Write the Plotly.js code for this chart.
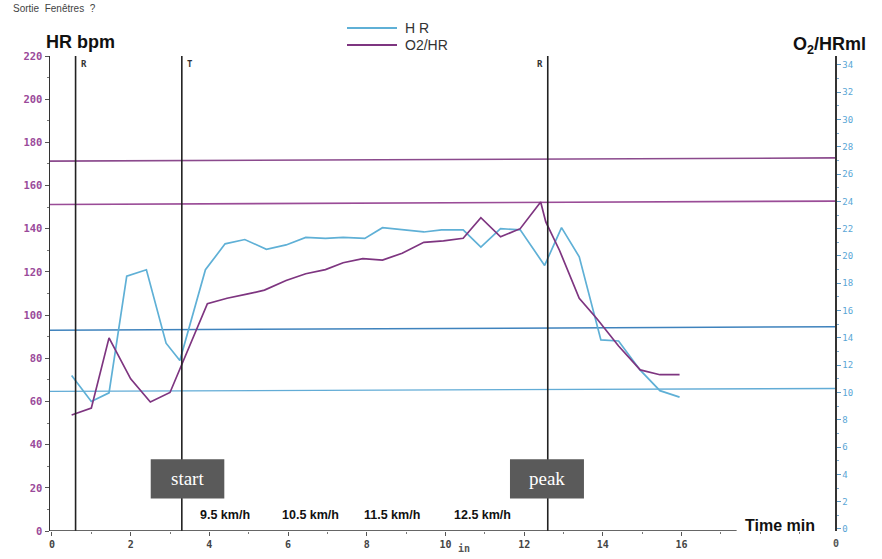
<!DOCTYPE html>
<html>
<head>
<meta charset="utf-8">
<script src="https://cdn.plot.ly/plotly-3.0.1.min.js"></script>
<style>html,body{margin:0;padding:0;background:#fff;}#chart{width:882px;height:559px;}</style>
</head>
<body>
<div id="chart"></div>
<script>
// ---- data ----
const hrTime = [0.5,1.0,1.45,1.9,2.4,2.9,3.25,3.9,4.4,4.9,5.45,5.95,6.45,6.95,7.4,7.95,8.4,8.95,9.45,9.9,10.45,10.9,11.4,11.9,12.52,12.95,13.4,13.95,14.4,14.95,15.45,15.95];
const hrBpm  = [72,60,64,118,121,87,79,121,133,135,130.5,132.5,136,135.5,136,135.5,140.5,139.5,138.5,139.5,139.5,131.5,140,139.5,123,140.5,127,88.5,88,74.5,65,62];

const o2Time = [0.5,1.0,1.45,2.0,2.5,3.0,3.95,4.45,4.95,5.4,5.95,6.45,6.95,7.4,7.9,8.4,8.9,9.45,9.95,10.45,10.9,11.4,11.9,12.42,12.55,12.9,13.4,13.85,14.4,14.95,15.45,15.95];
const o2Ml   = [8.35,8.85,14.0,11.0,9.3,10.0,16.5,16.9,17.2,17.5,18.2,18.7,19.0,19.5,19.8,19.7,20.2,21.0,21.1,21.3,22.8,21.4,22.0,23.95,22.5,20.4,16.9,15.4,13.4,11.65,11.3,11.3];

const seriesNames = ["H R", "O2/HR"];

// vertical event markers (time, min) and their labels
const markerTimes  = [0.6, 3.3, 12.6];
const markerLabels = ["R", "T", "R"];

// horizontal threshold lines, HR units at left end and right end
const refLeft  = [171.3, 151.2, 93.0, 64.7];
const refRight = [172.8, 152.8, 94.6, 66.0];

// treadmill speed labels and their time positions
const speedLabels = ["9.5 km/h", "10.5 km/h", "11.5 km/h", "12.5 km/h"];
const speedTimes  = [4.4, 6.58, 8.64, 10.95];

const xTicks = [0,2,4,6,8,10,12,14,16];

// ---- styling ----
const BLUE = "#5fb0d6";
const PURPLE = "#7e3580";
const AXIS = "#333";
const refColors = ["#8b4a8d", "#9a4c97", "#3f83bd", "#62acd6"];
const refWidths = [1.6, 1.6, 1.5, 1.3];
const SANS = "Liberation Sans, Arial, sans-serif";
const MONO = "DejaVu Sans Mono, monospace";

const L = 50, T = 56, W = 785, H = 475;
function px(xp) { return (xp - L) / W; }
function py(yp) { return 1 - (yp - T) / H; }

const traces = [
  {x: hrTime, y: hrBpm, name: seriesNames[0], type: "scatter", mode: "lines",
   line: {color: BLUE, width: 1.7}, yaxis: "y", showlegend: false},
  {x: o2Time, y: o2Ml, name: seriesNames[1], type: "scatter", mode: "lines",
   line: {color: PURPLE, width: 1.7}, yaxis: "y2", showlegend: false}
];

const shapes = [];
const annotations = [];

refLeft.forEach((v, i) => {
  shapes.push({type: "line", xref: "paper", yref: "y", x0: 0, x1: 1, y0: v, y1: refRight[i],
    line: {color: refColors[i], width: refWidths[i]}, layer: "below"});
});

markerTimes.forEach((t, i) => {
  shapes.push({type: "line", xref: "x", yref: "paper", x0: t, x1: t, y0: 0, y1: 1,
    line: {color: "#222", width: 1.6}});
  annotations.push({x: t, y: 1, xref: "x", yref: "paper", text: "<b>" + markerLabels[i] + "</b>",
    showarrow: false, xanchor: i === 2 ? "right" : "left", yanchor: "top", xshift: i === 2 ? -3 : 3, yshift: -1,
    font: {family: MONO, size: 9, color: "#333"}});
});

// x axis line (stops short of right axis)
shapes.push({type: "line", xref: "x", yref: "y", x0: -0.05, x1: 17.4, y0: 0, y1: 0,
  line: {color: AXIS, width: 1.5}});

// start / peak boxes
const boxes = [{x0: 2.51, x1: 4.38, text: "start"}, {x0: 11.64, x1: 13.52, text: "peak"}];
boxes.forEach(b => {
  shapes.push({type: "rect", xref: "x", yref: "y", x0: b.x0, x1: b.x1, y0: 15.1, y1: 33.2,
    fillcolor: "#5a5a5a", line: {width: 0}, layer: "above"});
  annotations.push({x: (b.x0 + b.x1) / 2, y: 24.1, xref: "x", yref: "y", text: b.text, showarrow: false,
    font: {family: "Liberation Serif, DejaVu Serif, serif", size: 19, color: "#ffffff"}});
});

speedLabels.forEach((s, i) => {
  annotations.push({x: speedTimes[i], y: 7.4, xref: "x", yref: "y", text: "<b>" + s + "</b>", showarrow: false,
    font: {family: SANS, size: 12.5, color: "#111"}});
});

// custom legend (lines + labels)
const legendColors = [BLUE, PURPLE];
const legendRows = [28, 45];
seriesNames.forEach((nm, i) => {
  shapes.push({type: "line", xref: "paper", yref: "paper", x0: px(347), x1: px(397),
    y0: py(legendRows[i]), y1: py(legendRows[i]), line: {color: legendColors[i], width: 2.2}});
  annotations.push({x: px(403), y: py(legendRows[i]), xref: "paper", yref: "paper", text: nm,
    showarrow: false, xanchor: "left", yanchor: "middle",
    font: {family: SANS, size: 14, color: "#333"}});
});

// titles and misc text, pixel positioned
const misc = [
  {x: 80, y: 42, text: "<b>HR bpm</b>", font: {family: SANS, size: 18, color: "#111"}},
  {x: 780, y: 525, text: "<b>Time min</b>", font: {family: SANS, size: 16, color: "#111"}},
  {x: 829, y: 45, text: "<b>O<sub>2</sub>/HRml</b>", font: {family: SANS, size: 18, color: "#111"}},
  {x: 464, y: 548, text: "in", font: {family: MONO, size: 10, color: "#555", weight: "bold"}},
  {x: 836, y: 543, text: "0", font: {family: MONO, size: 10, color: "#555", weight: "bold"}},
  {x: 54, y: 8, text: "Sortie  Fenêtres  ?", font: {family: SANS, size: 10, color: "#444"}}
];
misc.forEach(m => {
  annotations.push({x: px(m.x), y: py(m.y), xref: "paper", yref: "paper", text: m.text,
    showarrow: false, xanchor: "center", yanchor: "middle", font: m.font});
});

const layout = {
  width: 882, height: 559,
  margin: {l: L, r: 882 - L - W, t: T, b: 559 - T - H, pad: 0},
  paper_bgcolor: "#ffffff", plot_bgcolor: "#ffffff",
  showlegend: false,
  xaxis: {range: [-0.05, 19.9], tickmode: "array", tickvals: xTicks, ticktext: xTicks.map(String),
    showgrid: false, zeroline: false, showline: false, ticks: "outside", ticklen: 4, tickcolor: "#555",
    minor: {dtick: 1, ticks: "outside", ticklen: 2, tickcolor: "#777", showgrid: false},
    tickfont: {family: MONO, size: 10, color: "#444", weight: "bold"}},
  yaxis: {range: [0, 220], dtick: 20, showgrid: false, zeroline: false, showline: true,
    linecolor: AXIS, linewidth: 1.5, ticks: "outside", ticklen: 4, tickcolor: "#555",
    minor: {dtick: 10, ticks: "outside", ticklen: 2, tickcolor: "#777", showgrid: false},
    tickfont: {family: MONO, size: 10.5, color: "#9a4a9a", weight: "bold"}},
  yaxis2: {range: [-0.15, 34.65], dtick: 2, overlaying: "y", side: "right", showgrid: false, zeroline: false,
    showline: true, linecolor: AXIS, linewidth: 1.5, ticks: "outside", ticklen: 4, tickcolor: "#5a9ac8",
    minor: {dtick: 1, ticks: "outside", ticklen: 2, tickcolor: "#7aaad0", showgrid: false},
    tickfont: {family: MONO, size: 9, color: "#5aa6d6"}},
  shapes: shapes,
  annotations: annotations
};

Plotly.newPlot("chart", traces, layout, {displayModeBar: false, staticPlot: true});
</script>
</body>
</html>
